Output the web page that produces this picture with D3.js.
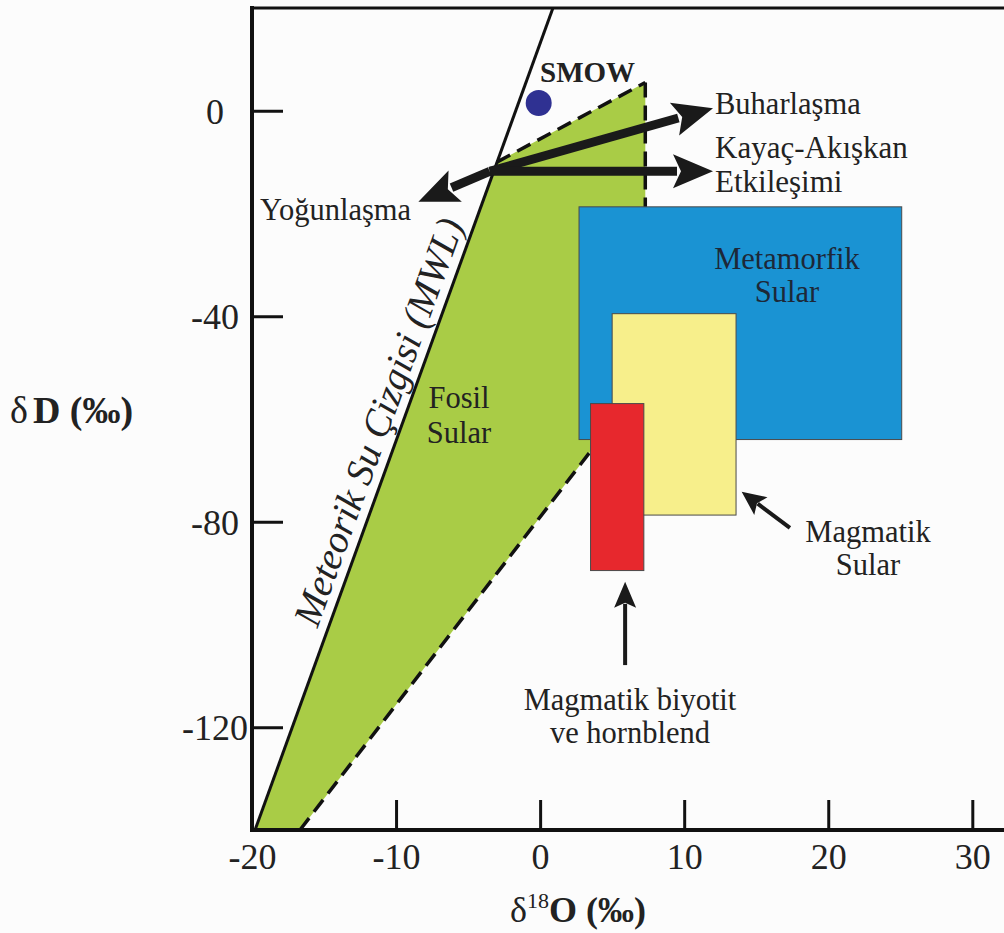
<!DOCTYPE html>
<html>
<head>
<meta charset="utf-8">
<script src="https://cdn.jsdelivr.net/npm/d3@7"></script>
<style>
  html, body { margin: 0; padding: 0; background: #fcfcfc; }
  svg { display: block; }
  text { font-family: "Liberation Serif", "Times New Roman", serif; fill: #222; }
</style>
</head>
<body>
<svg id="chart" width="1004" height="933"></svg>
<script>
// Axis ticks
const xTicks = [-20, -10, 0, 10, 20, 30];
const yTicks = [-120, -80, -40, 0];

// Meteoric water line end points (δ18O, δD)
const mwlLine = [[-19.79, -140], [0.89, 20]];

// Fossil water field outline (δ18O, δD)
const fossilField = [[-19.79, -140], [-3, -10], [7.3, 5.5], [7.3, -52.4], [-16.67, -140]];

// Fields drawn as rectangles: [δ18O min, δ18O max, δD min, δD max]
const metamorphicBox = [2.7, 25.1, -64, -18.7];
const magmaticBox = [5, 13.6, -78.7, -39.5];
const biotiteBox = [3.5, 7.2, -89.5, -57];

// Standard mean ocean water
const smowPoint = [-0.1, 1.5];

// Process arrows: [from, to]
const evaporationArrow = [[-3.5, -11.8], [12.0, 0.5]];
const rockFluidArrow = [[-3.5, -11.8], [12.0, -11.8]];
const condensationArrow = [[-3.5, -11.8], [-8.45, -17.7]];
const magmaticArrow = [[17.34, -81.2], [13.99, -74.15]];
const biotiteArrow = [[5.9, -107.9], [5.9, -91.7]];

const svg = d3.select("#chart");
const W = 1004, H = 933;
svg.append("rect").attr("width", W).attr("height", H).attr("fill", "#fcfcfc");

const x = d3.scaleLinear().domain([-20, 32.2]).range([252, 1004]);
const y = d3.scaleLinear().domain([-140, 20]).range([830, 8]);

const plot = svg.append("g");

// Fossil water field
plot.append("path")
  .attr("d", d3.line().x(d => x(d[0])).y(d => y(d[1]))(fossilField) + "Z")
  .attr("fill", "#a9cc46");

// Dashed edges of the field
const dashed = [[fossilField[1], fossilField[2]], [fossilField[2], fossilField[3]], [fossilField[4], fossilField[3]]];
dashed.forEach(seg => {
  plot.append("line")
    .attr("x1", x(seg[0][0])).attr("y1", y(seg[0][1]))
    .attr("x2", x(seg[1][0])).attr("y2", y(seg[1][1]))
    .attr("stroke", "#111").attr("stroke-width", 3.5)
    .attr("stroke-dasharray", "15 8");
});

// Meteoric water line
plot.append("line")
  .attr("x1", x(mwlLine[0][0])).attr("y1", y(mwlLine[0][1]))
  .attr("x2", x(mwlLine[1][0])).attr("y2", y(mwlLine[1][1]))
  .attr("stroke", "#111").attr("stroke-width", 3);

// Rectangular fields
function box(b, fill) {
  plot.append("rect")
    .attr("x", x(b[0])).attr("y", y(b[3]))
    .attr("width", x(b[1]) - x(b[0]))
    .attr("height", y(b[2]) - y(b[3]))
    .attr("fill", fill).attr("stroke", "#4a4a4a").attr("stroke-width", 1);
}
box(metamorphicBox, "#1a93d3");
box(magmaticBox, "#f7ef8b");
box(biotiteBox, "#e7282d");

// SMOW point
plot.append("circle")
  .attr("cx", x(smowPoint[0])).attr("cy", y(smowPoint[1]))
  .attr("r", 13).attr("fill", "#2f3192");

// Arrows with solid triangular heads
function arrow(a, width, headLen, headHalf) {
  const x1 = x(a[0][0]), y1 = y(a[0][1]), x2 = x(a[1][0]), y2 = y(a[1][1]);
  const dx = x2 - x1, dy = y2 - y1, len = Math.hypot(dx, dy);
  const ux = dx / len, uy = dy / len;
  const bx = x2 - ux * headLen, by = y2 - uy * headLen;
  plot.append("line")
    .attr("x1", x1).attr("y1", y1)
    .attr("x2", bx + ux * 4).attr("y2", by + uy * 4)
    .attr("stroke", "#1a1a1a").attr("stroke-width", width);
  plot.append("path")
    .attr("d", `M${x2},${y2}L${bx - uy * headHalf},${by + ux * headHalf}L${bx + ux * headLen * 0.2},${by + uy * headLen * 0.2}L${bx + uy * headHalf},${by - ux * headHalf}Z`)
    .attr("fill", "#1a1a1a");
}
arrow(evaporationArrow, 9, 40, 17);
arrow(rockFluidArrow, 9, 40, 17);
arrow(condensationArrow, 9, 40, 17);
arrow(magmaticArrow, 4, 24, 11);
arrow(biotiteArrow, 4, 26, 11);

// Labels
function label(t, px, py, opts = {}) {
  return plot.append("text")
    .attr("x", px).attr("y", py)
    .attr("text-anchor", opts.anchor || "start")
    .attr("font-size", opts.size || 30.5)
    .attr("font-weight", opts.weight || "normal")
    .style("fill", opts.color || "#222")
    .text(t);
}
label("SMOW", 540, 82, { size: 29, weight: "bold" });
label("Buharlaşma", 715, 114);
label("Kayaç-Akışkan", 715, 158, { size: 31 });
label("Etkileşimi", 715, 192, { size: 31 });
label("Yoğunlaşma", 260, 220);
label("Metamorfik", 787, 269, { anchor: "middle", color: "#1d2838" });
label("Sular", 787, 302, { anchor: "middle", color: "#1d2838" });
label("Fosil", 459, 408, { anchor: "middle" });
label("Sular", 459, 443, { anchor: "middle" });
label("Magmatik", 868, 542, { anchor: "middle" });
label("Sular", 868, 575, { anchor: "middle" });
label("Magmatik biyotit", 630, 710, { anchor: "middle" });
label("ve hornblend", 630, 743, { anchor: "middle" });

// Rotated label along the meteoric water line
{
  const ax = x(mwlLine[0][0]), ay = y(mwlLine[0][1]);
  const bx = x(mwlLine[1][0]), by = y(mwlLine[1][1]);
  const ang = Math.atan2(by - ay, bx - ax) * 180 / Math.PI;
  const t = 0.487; // fraction along the line
  const cx = ax + (bx - ax) * t, cy = ay + (by - ay) * t;
  const len = Math.hypot(bx - ax, by - ay);
  const nx = (by - ay) / len, ny = -(bx - ax) / len; // normal pointing left of the line
  const off = 10;
  plot.append("text")
    .attr("transform", `translate(${cx + nx * off},${cy + ny * off}) rotate(${ang})`)
    .attr("text-anchor", "middle")
    .attr("font-size", 39)
    .attr("font-style", "italic")
    .text("Meteorik Su Çizgisi (MWL)");
}

// Axes
const fmt = d => String(d);
const axisG = svg.append("g");
const yAxis = axisG.append("g")
  .attr("transform", `translate(${x(-20)},0)`)
  .call(d3.axisLeft(y).tickValues(yTicks).tickFormat(fmt).tickSizeInner(-31).tickSizeOuter(0).tickPadding(0));
yAxis.select(".domain").remove();
yAxis.selectAll(".tick line").attr("stroke", "#111").attr("stroke-width", 3);
yAxis.selectAll(".tick text")
  .attr("x", -37).attr("dy", "0.34em")
  .attr("text-anchor", "middle")
  .attr("font-size", 36)
  .attr("font-family", "Liberation Serif, serif")
  .style("fill", "#222");

const xAxis = axisG.append("g")
  .attr("transform", `translate(0,${y(-140)})`)
  .call(d3.axisBottom(x).tickValues(xTicks).tickFormat(fmt).tickSizeInner(-30).tickSizeOuter(0).tickPadding(0));
xAxis.select(".domain").remove();
xAxis.selectAll(".tick line").attr("stroke", "#111").attr("stroke-width", 3);
xAxis.selectAll(".tick text")
  .attr("y", 39).attr("dy", 0)
  .attr("font-size", 36)
  .attr("font-family", "Liberation Serif, serif")
  .style("fill", "#222");

// Frame lines: left, bottom and top
axisG.append("line").attr("x1", x(-20)).attr("x2", x(-20)).attr("y1", 6).attr("y2", y(-140) + 2)
  .attr("stroke", "#111").attr("stroke-width", 4);
axisG.append("line").attr("x1", x(-20) - 2).attr("x2", W).attr("y1", y(-140)).attr("y2", y(-140))
  .attr("stroke", "#111").attr("stroke-width", 4);
axisG.append("line").attr("x1", x(-20) - 2).attr("x2", W).attr("y1", 8).attr("y2", 8)
  .attr("stroke", "#111").attr("stroke-width", 3);

// Axis titles
const yTitle = svg.append("text").attr("x", 10).attr("y", 423).attr("font-size", 38);
yTitle.append("tspan").text("δ");
yTitle.append("tspan").attr("font-weight", "bold").attr("dx", 5).text("D (‰)");

const xTitle = svg.append("text").attr("x", 578).attr("y", 922).attr("font-size", 36).attr("text-anchor", "middle");
xTitle.append("tspan").text("δ");
xTitle.append("tspan").attr("font-size", 22).attr("dy", -14).text("18");
xTitle.append("tspan").attr("font-weight", "bold").attr("dy", 14).text("O (‰)");
</script>
</body>
</html>
